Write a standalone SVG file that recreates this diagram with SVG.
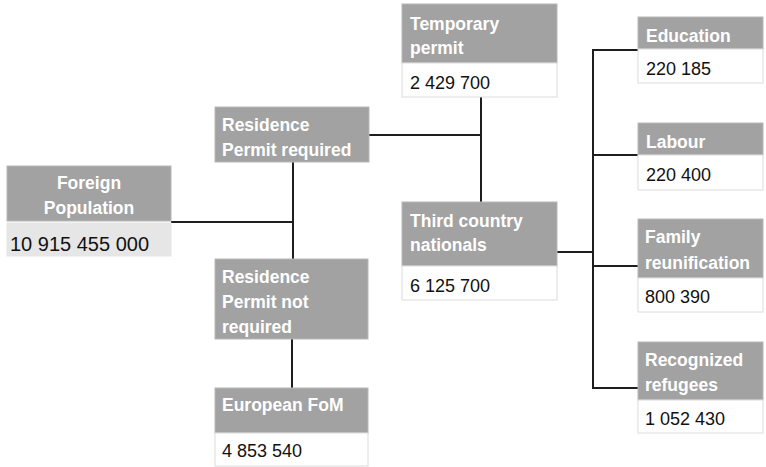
<svg xmlns="http://www.w3.org/2000/svg" width="766" height="467" viewBox="0 0 766 467">
<style>
.hd{fill:#a2a2a2;stroke:#b8b8b8;stroke-width:1}
.vl{fill:#ffffff;stroke:#dcdcdc;stroke-width:1}
.vg{fill:#e6e6e6;stroke:#e6e6e6;stroke-width:1}
.ht{font-family:"Liberation Sans",Arial,sans-serif;font-weight:bold;font-size:17.5px;fill:#ffffff}
.vt{font-family:"Liberation Sans",Arial,sans-serif;font-size:18px;fill:#111111}
.cn{stroke:#1e1e1e;stroke-width:2;fill:none}
</style>
<rect width="766" height="467" fill="#ffffff"/>
<g id="connectors">
<line class="cn" x1="171" y1="222" x2="293" y2="222"/>
<line class="cn" x1="293" y1="162" x2="293" y2="259"/>
<line class="cn" x1="369" y1="135" x2="481" y2="135"/>
<line class="cn" x1="481" y1="97" x2="481" y2="202"/>
<line class="cn" x1="292" y1="339" x2="292" y2="388"/>
<line class="cn" x1="557" y1="252" x2="593" y2="252"/>
<line class="cn" x1="593" y1="49" x2="593" y2="389"/>
<line class="cn" x1="592" y1="50" x2="638" y2="50"/>
<line class="cn" x1="592" y1="155" x2="638" y2="155"/>
<line class="cn" x1="592" y1="266" x2="638" y2="266"/>
<line class="cn" x1="592" y1="388" x2="638" y2="388"/>
</g>
<g id="foreign-population">
<rect class="hd" x="7" y="166" width="164" height="55"/>
<rect class="vg" x="7" y="223" width="164" height="33"/>
<text class="ht" x="89" y="189" text-anchor="middle">Foreign</text>
<text class="ht" x="89" y="214" text-anchor="middle">Population</text>
<text class="vt" x="10" y="251" style="font-size:20px">10 915 455 000</text>
</g>
<g id="residence-permit-required">
<rect class="hd" x="215" y="107" width="154" height="55"/>
<text class="ht" x="222" y="131">Residence</text>
<text class="ht" x="222" y="156">Permit required</text>
</g>
<g id="residence-permit-not-required">
<rect class="hd" x="215" y="259" width="153" height="80"/>
<text class="ht" x="222" y="283">Residence</text>
<text class="ht" x="222" y="308">Permit not</text>
<text class="ht" x="222" y="333">required</text>
</g>
<g id="european-fom">
<rect class="hd" x="215" y="388" width="153" height="45"/>
<rect class="vl" x="215" y="433" width="153" height="33"/>
<text class="ht" x="222" y="411">European FoM</text>
<text class="vt" x="222" y="457">4 853 540</text>
</g>
<g id="temporary-permit">
<rect class="hd" x="402" y="4" width="155" height="59"/>
<rect class="vl" x="402" y="63" width="155" height="34"/>
<text class="ht" x="410" y="30">Temporary</text>
<text class="ht" x="410" y="54">permit</text>
<text class="vt" x="410" y="89">2 429 700</text>
</g>
<g id="third-country-nationals">
<rect class="hd" x="402" y="202" width="155" height="64"/>
<rect class="vl" x="402" y="266" width="155" height="34"/>
<text class="ht" x="410" y="227">Third country</text>
<text class="ht" x="410" y="251">nationals</text>
<text class="vt" x="410" y="292">6 125 700</text>
</g>
<g id="education">
<rect class="hd" x="638" y="17" width="125" height="32"/>
<rect class="vl" x="638" y="49" width="125" height="34"/>
<text class="ht" x="646" y="42">Education</text>
<text class="vt" x="646" y="75">220 185</text>
</g>
<g id="labour">
<rect class="hd" x="638" y="123" width="125" height="32"/>
<rect class="vl" x="638" y="155" width="125" height="35"/>
<text class="ht" x="646" y="148">Labour</text>
<text class="vt" x="646" y="181">220 400</text>
</g>
<g id="family-reunification">
<rect class="hd" x="638" y="219" width="125" height="59"/>
<rect class="vl" x="638" y="278" width="125" height="34"/>
<text class="ht" x="645" y="243">Family</text>
<text class="ht" x="645" y="269">reunification</text>
<text class="vt" x="645" y="303">800 390</text>
</g>
<g id="recognized-refugees">
<rect class="hd" x="638" y="342" width="125" height="58"/>
<rect class="vl" x="638" y="400" width="125" height="33"/>
<text class="ht" x="645" y="366">Recognized</text>
<text class="ht" x="645" y="391">refugees</text>
<text class="vt" x="645" y="425">1 052 430</text>
</g>
</svg>
